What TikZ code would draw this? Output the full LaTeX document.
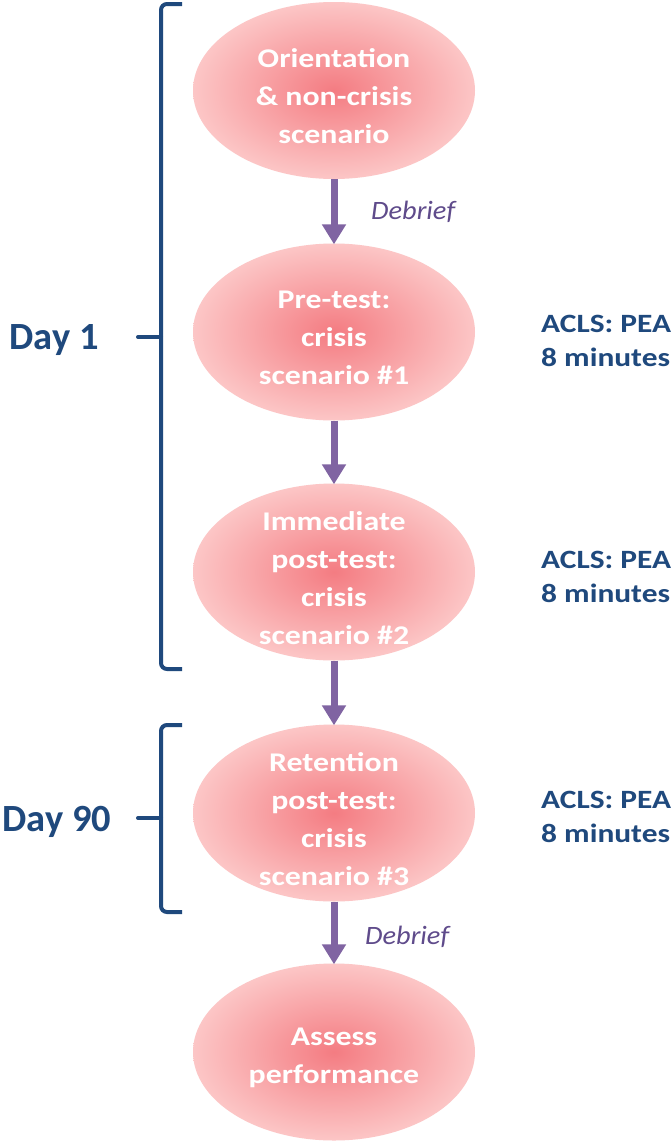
\documentclass[tikz,border=0pt]{standalone}
\usepackage{fontspec}
\setmainfont{Carlito}
\newfontfamily\ellfont[FakeStretch=1.18]{Carlito}
\newfontfamily\aclsfont[FakeStretch=1.19]{Carlito}
\newfontfamily\dayfont{Carlito}
\newfontfamily\debfont[FakeStretch=1.07]{Carlito}
\usetikzlibrary{shapes.geometric,arrows.meta}
\definecolor{navy}{HTML}{1F497D}
\definecolor{arrowpurple}{HTML}{8064A2}
\definecolor{debpurple}{HTML}{5F4B8B}
\definecolor{pinkin}{HTML}{F47C82}
\definecolor{pinkout}{HTML}{FCC6C6}
\tikzset{
  stage/.style={ellipse, minimum width=282pt, minimum height=177pt, inner sep=0pt,
    shading=radial, inner color=pinkin, outer color=pinkout, draw=none},
  stagetext/.style={text=white, align=center, inner sep=0pt,
    font=\ellfont\bfseries\fontsize{27}{38}\selectfont},
  flow/.style={draw=arrowpurple, line width=7pt, -{Triangle[width=23pt,length=20pt]}, shorten >=-1pt},
  dlabel/.style={text=debpurple, font=\debfont\itshape\fontsize{26.5}{30}\selectfont, anchor=west, inner sep=0pt},
  acls/.style={text=navy, font=\aclsfont\bfseries\fontsize{26.4}{34}\selectfont, align=left, anchor=west, inner sep=0pt},
  daylabel/.style={text=navy, font=\dayfont\bfseries\fontsize{38.5}{40}\selectfont, inner sep=0pt},
  brk/.style={draw=navy, line width=4pt, rounded corners=6pt}
}
\begin{document}
\begin{tikzpicture}[x=1pt,y=-1pt]
\useasboundingbox[fill=white] (0,0) rectangle (671,1143);
% stages
\node[stage] (e1) at (334,90.5) {};
\node[stage] (e2) at (334,332) {};
\node[stage] (e3) at (334,572) {};
\node[stage] (e4) at (334,813) {};
\node[stage] (e5) at (334,1052) {};
\node[stagetext] (t1) at ([yshift=-6pt]e1.center) {Orientation\\\& non-crisis\\scenario};
\node[stagetext] (t2) at ([yshift=-6pt]e2.center) {Pre-test:\\crisis\\scenario \#1};
\node[stagetext] (t3) at ([yshift=-6pt]e3.center) {Immediate\\post-test:\\crisis\\scenario \#2};
\node[stagetext] (t4) at ([yshift=-6pt]e4.center) {Retention\\post-test:\\crisis\\scenario \#3};
\node[stagetext] (t5) at ([yshift=-6pt]e5.center) {Assess\\performance};
% arrows
\draw[flow] (e1.south) -- (e2.north);
\draw[flow] (e2.south) -- (e3.north);
\draw[flow] (e3.south) -- (e4.north);
\draw[flow] (e4.south) -- (e5.north);
% debrief labels
\node[dlabel] (d1) at (371,212) {Debrief};
\node[dlabel] (d2) at (365,937) {Debrief};
% ACLS labels
\node[acls] (a2) at (541,341) {ACLS: PEA\\8 minutes};
\node[acls] (a3) at (541,577) {ACLS: PEA\\8 minutes};
\node[acls] (a4) at (541,817) {ACLS: PEA\\8 minutes};
% brackets
\draw[brk] (182,4) -- (161,4) -- (161,669) -- (182,669);
\draw[navy, line width=4pt, line cap=round] (161,337) -- (138,337);
\draw[brk] (182,725) -- (161,725) -- (161,912) -- (182,912);
\draw[navy, line width=4pt, line cap=round] (161,818) -- (138,818);
\node[daylabel] (day1) at (54,340) {Day 1};
\node[daylabel] (day90) at (57,822) {Day 90};
\end{tikzpicture}
\end{document}
